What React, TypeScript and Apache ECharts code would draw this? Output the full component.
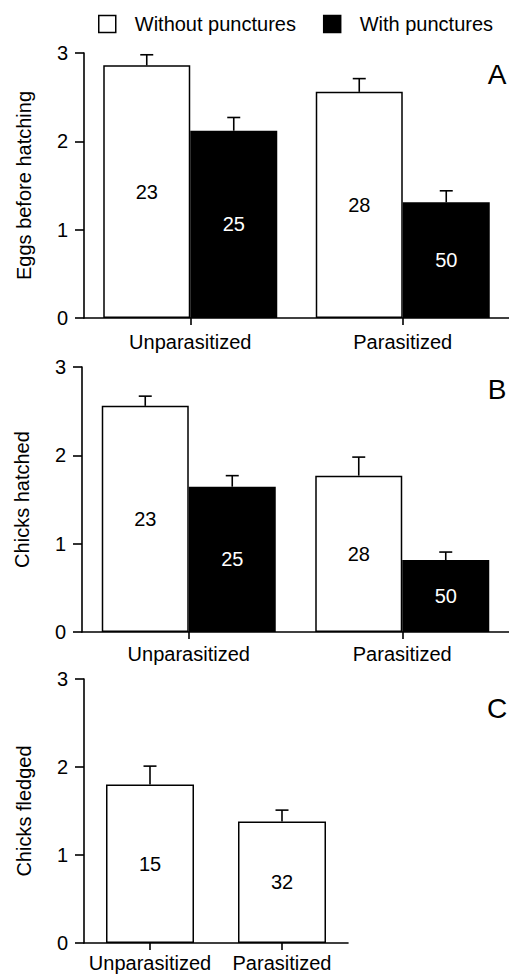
import React, { useEffect, useRef } from 'react';
import * as echarts from 'echarts';

const groups = ['Unparasitized', 'Parasitized'];
const seriesNames = ['Without punctures', 'With punctures'];
const panelLetters = ['A', 'B', 'C'];
const yTitles = ['Eggs before hatching', 'Chicks hatched', 'Chicks fledged'];

const eggsWithout = [2.86, 2.56];
const eggsWithoutErr = [0.12, 0.15];
const eggsWithoutN = [23, 28];
const eggsWith = [2.12, 1.31];
const eggsWithErr = [0.15, 0.13];
const eggsWithN = [25, 50];

const hatchedWithout = [2.56, 1.77];
const hatchedWithoutErr = [0.11, 0.21];
const hatchedWithoutN = [23, 28];
const hatchedWith = [1.645, 0.815];
const hatchedWithErr = [0.125, 0.09];
const hatchedWithN = [25, 50];

const fledged = [1.8, 1.38];
const fledgedErr = [0.21, 0.13];
const fledgedN = [15, 32];

const FONT = 'Liberation Sans, Arial, Helvetica, sans-serif';

function barSeries(name: string, values: number[], ns: number[], gi: number, black: boolean, barWidth: number) {
  return {
    type: 'bar',
    name,
    xAxisIndex: gi,
    yAxisIndex: gi,
    barWidth,
    barGap: '0%',
    data: values,
    itemStyle: black
      ? { color: '#000', borderColor: '#000', borderWidth: 1.5 }
      : { color: '#fff', borderColor: '#000', borderWidth: 1.5 },
    label: {
      show: true,
      position: 'inside',
      formatter: (p: any) => String(ns[p.dataIndex]),
      color: black ? '#fff' : '#000',
      fontSize: 20,
      fontFamily: FONT,
    },
    z: 2,
  };
}

function errSeries(values: number[], errs: number[], gi: number, offset: number) {
  return {
    type: 'custom',
    xAxisIndex: gi,
    yAxisIndex: gi,
    data: values.map((v, i) => [i, v, errs[i]]),
    z: 5,
    renderItem: (params: any, api: any) => {
      const cat = api.value(0);
      const mean = api.value(1);
      const err = api.value(2);
      const base = api.coord([cat, mean]);
      const top = api.coord([cat, mean + err]);
      const x = base[0] + offset;
      const st = { stroke: '#000', lineWidth: 1.6 };
      return {
        type: 'group',
        children: [
          { type: 'line', shape: { x1: x, y1: base[1], x2: x, y2: top[1] }, style: st },
          { type: 'line', shape: { x1: x - 6.5, y1: top[1], x2: x + 6.5, y2: top[1] }, style: st },
        ],
      };
    },
  };
}

export default function App() {
  const ref = useRef<HTMLDivElement>(null);
  useEffect(() => {
    if (!ref.current) return;
    const chart = echarts.init(ref.current, undefined, { renderer: 'svg' });
    const grids = [
      { left: 84, top: 53, width: 434, height: 265 },
      { left: 82, top: 367, width: 436, height: 265 },
      { left: 84, top: 679, width: 264, height: 264 },
    ];
    const labelMargins = [14, 12, 10];
    const axisLine = { show: true, lineStyle: { color: '#000', width: 1.6 } };
    const option: any = {
      animation: false,
      backgroundColor: '#fff',
      textStyle: { fontFamily: FONT, color: '#000' },
      legend: {
        left: 93,
        top: 9,
        itemWidth: 17,
        itemHeight: 17,
        itemGap: 27,
        selectedMode: false,
        textStyle: { fontSize: 20, color: '#000', fontFamily: FONT, padding: [0, 0, 0, 14] },
        data: [
          { name: seriesNames[0], icon: 'rect', itemStyle: { color: '#fff', borderColor: '#000', borderWidth: 1.5 } },
          { name: seriesNames[1], icon: 'rect', itemStyle: { color: '#000', borderColor: '#000', borderWidth: 1.5 } },
        ],
      },
      grid: grids,
      xAxis: grids.map((g, i) => ({
        type: 'category',
        gridIndex: i,
        data: groups,
        boundaryGap: true,
        axisLine,
        axisTick: { show: true, alignWithLabel: true, length: 7, lineStyle: { color: '#000', width: 1.6 } },
        axisLabel: {
          color: '#000',
          fontSize: 20,
          fontFamily: FONT,
          margin: labelMargins[i],
          interval: 0,
          hideOverlap: false,
        },
        splitLine: { show: false },
      })),
      yAxis: grids.map((g, i) => ({
        type: 'value',
        gridIndex: i,
        min: 0,
        max: 3,
        interval: 1,
        name: yTitles[i],
        nameLocation: 'middle',
        nameGap: 50,
        nameTextStyle: { fontSize: 20, color: '#000', fontFamily: FONT },
        axisLine,
        axisTick: { show: true, length: 9, lineStyle: { color: '#000', width: 1.6 } },
        axisLabel: { color: '#000', fontSize: 20, fontFamily: FONT, margin: 16 },
        splitLine: { show: false },
      })),
      series: [
        barSeries(seriesNames[0], eggsWithout, eggsWithoutN, 0, false, 87),
        barSeries(seriesNames[1], eggsWith, eggsWithN, 0, true, 87),
        errSeries(eggsWithout, eggsWithoutErr, 0, -43.5),
        errSeries(eggsWith, eggsWithErr, 0, 43.5),
        barSeries(seriesNames[0], hatchedWithout, hatchedWithoutN, 1, false, 87),
        barSeries(seriesNames[1], hatchedWith, hatchedWithN, 1, true, 87),
        errSeries(hatchedWithout, hatchedWithoutErr, 1, -43.5),
        errSeries(hatchedWith, hatchedWithErr, 1, 43.5),
        barSeries(seriesNames[0], fledged, fledgedN, 2, false, 88),
        errSeries(fledged, fledgedErr, 2, 0),
      ],
      graphic: panelLetters.map((l, i) => ({
        type: 'text',
        x: 497,
        y: [74, 389, 708][i],
        style: {
          text: l,
          fontSize: 28,
          fontFamily: FONT,
          fill: '#000',
          textAlign: 'center',
          textVerticalAlign: 'middle',
          align: 'center',
          verticalAlign: 'middle',
        },
      })),
    };
    chart.setOption(option);
    return () => chart.dispose();
  }, []);
  return (
    <div
      ref={ref}
      style={{ position: 'absolute', left: 0, top: 0, width: 509, height: 978 }}
    />
  );
}
